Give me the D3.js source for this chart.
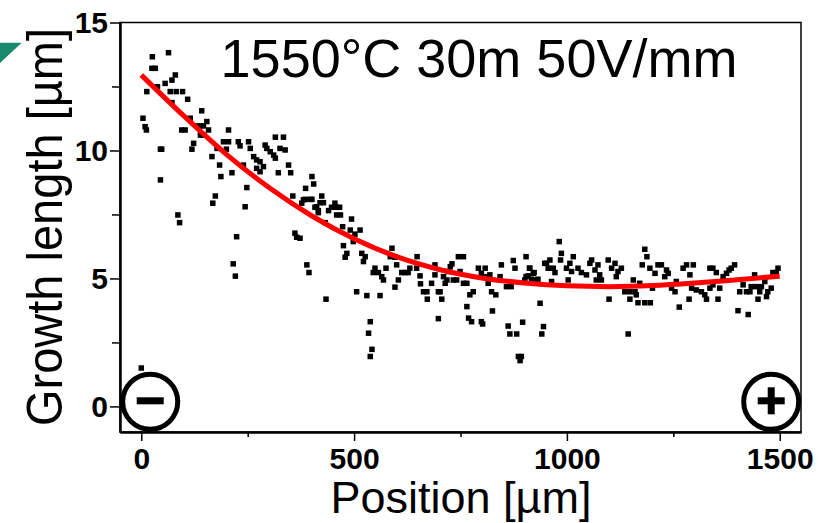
<!DOCTYPE html>
<html>
    <head>
        <meta charset="UTF-8"/>
        <style>
            body { margin: 0; background: #fff; }
            text { font-family: "Liberation Sans", Arial, sans-serif; }
        </style>
    </head>
    <body>
        <svg width="823" height="523"></svg>
        <script src="https://d3js.org/d3.v7.min.js" type="text/javascript"></script>
        <script>
            // measured points: position [um], growth length [um]
            let posX = [
                26, 64, 25, 33, 80, 72, 56, 38, 13, 68, 82, 97, 72, 109, 142, 4, 9, 12, 115, 154,
                131, 139, 146, 95, 103, 158, 205, 139, 146, 123, 45, 48, 119, 178, 193, 205, 228, 232, 252, 256,
                200, 166, 184, 264, 271, 279, 291, 295, 303, 311, 315, 315, 334, 326, 338, 240, 271, 287, 279, 187,
                213, 248, 322, 346, 351, 401, 405, 386, 45, 174, 168, 244, 356, 377, 385, 401, 412, 416, 86, 90,
                224, 361, 365, 0, 216, 221,
                381, 397, 424, 420, 428, 408, 416, 440, 447, 455, 459, 466, 459, 468, 432, 473, 494, 491, 502, 514,
                373, 389, 394, 434, 475, 483, 479, 498, 518, 526, 522, 506, 549, 557, 545, 565, 569, 575, 530, 561,
                538, 534, 542, 538, 589, 585, 596, 600, 604, 596, 612, 620, 627, 631, 647, 648, 655, 656, 663, 671,
                672, 682, 690, 690, 698, 702, 706, 698, 710, 718, 714, 722, 726, 730, 733, 741, 749, 757, 765, 745,
                757, 765, 769, 776, 772, 780, 792, 799, 808, 812, 799, 802, 815, 823, 833, 825, 819, 843, 846, 858,
                869, 874, 878, 862, 866, 882, 886, 890, 893, 896, 904, 901, 909, 913, 921, 929, 937, 945, 941, 948,
                956,
                982, 987, 985, 1015, 912, 923, 904, 917, 932, 952, 960, 968, 972, 964, 999, 1007, 1011, 1003, 1026, 1034,
                1046, 1054, 1058, 1066, 1073, 1077, 1081, 1069, 1097, 1105, 1113, 1120, 1116, 1128, 1099, 1136, 1148, 1156, 1160, 1148,
                1163, 1144, 1167, 1183, 1196, 1171, 1177, 1183, 1188, 1195, 1201, 1207, 1214, 1222, 1230, 1238, 1234, 1246, 1254, 1257,
                1264, 1273, 1281, 1289, 1297, 1293, 1287, 1304, 1316, 1324, 1328, 1336, 1343, 1336, 1343, 1351, 1355, 1359, 1367, 1375,
                1381, 1386, 1394, 1402, 1426, 1406, 1414, 1422, 1430, 1433, 1441, 1445, 1449, 1453, 1457, 1465, 1469, 1472, 1480, 1484,
                1492, 1496
            ];
            let growthY = [
                13.66, 13.82, 13.21, 13.21, 12.95, 12.75, 12.62, 12.49, 12.30, 12.30, 12.30, 12.30, 11.87, 12.00, 11.55, 11.26, 10.93, 10.80, 11.26, 11.13,
                10.96, 10.96, 10.96, 10.80, 10.80, 10.80, 10.80, 10.60, 10.60, 10.28, 10.05, 10.05, 10.05, 10.08, 10.34, 10.34, 10.34, 10.18, 10.34, 10.08,
                10.05, 9.76, 9.43, 9.76, 9.63, 9.56, 10.21, 10.08, 9.95, 9.82, 9.70, 10.52, 10.52, 10.08, 10.02, 9.43, 9.30, 9.37, 9.17, 8.98,
                9.13, 8.55, 9.13, 9.43, 9.13, 8.98, 8.69, 8.52, 8.85, 8.22, 7.94, 7.80, 8.22, 7.94, 8.09, 8.09, 7.80, 7.57, 7.48, 7.18,
                6.63, 6.77, 6.61, 1.50, 5.57, 5.09,
                8.07, 8.09, 8.22, 7.96, 7.96, 7.78, 7.65, 7.65, 7.78, 7.94, 7.78, 7.78, 7.48, 7.48, 7.18, 7.02, 7.32, 6.89, 6.73, 6.89,
                6.57, 5.53, 5.23, 4.19, 6.28, 5.98, 5.83, 6.44, 5.98, 5.85, 5.66, 4.48, 5.40, 5.23, 5.23, 5.07, 4.94, 5.40, 4.33, 4.33,
                3.31, 2.86, 2.23, 1.95, 6.18, 5.85, 5.83, 5.53, 4.94, 4.66, 5.23, 5.23, 5.23, 5.40, 5.40, 5.85, 5.10, 4.79, 4.48, 4.48,
                4.19, 4.81, 5.53, 5.14, 4.48, 4.48, 4.19, 3.43, 5.07, 4.94, 4.81, 5.27, 5.46, 5.57, 4.94, 4.94, 5.27, 4.81, 4.81, 5.85,
                5.85, 3.90, 3.45, 3.31, 4.36, 4.48, 5.40, 5.20, 5.40, 5.07, 3.31, 3.22, 4.81, 4.48, 4.36, 3.73, 5.14, 5.07, 5.53, 4.68,
                4.68, 5.70, 5.40, 3.14, 2.83, 2.83, 1.95, 1.79, 1.95, 3.29, 5.85, 4.94, 5.10, 5.40, 5.20, 4.94, 4.03, 3.12, 2.83, 5.59,
                5.40,
                6.44, 5.98, 5.72, 5.85, 5.40, 5.23, 5.07, 4.97, 4.97, 5.59, 5.72, 5.40, 5.23, 4.88, 5.40, 5.59, 5.27, 4.94, 5.40, 5.23,
                5.14, 5.59, 5.72, 5.33, 5.53, 5.14, 4.94, 4.94, 5.72, 5.40, 5.59, 5.27, 5.07, 5.40, 4.19, 4.48, 4.48, 4.94, 4.48, 4.19,
                4.36, 2.83, 4.05, 4.05, 4.05, 4.81, 5.53, 6.14, 5.85, 5.40, 4.62, 5.20, 5.53, 5.53, 5.07, 5.20, 5.33, 4.62, 4.48, 4.88,
                3.88, 5.40, 5.53, 5.14, 5.53, 4.62, 4.19, 4.55, 4.48, 4.36, 4.19, 4.62, 4.75, 5.40, 5.40, 5.23, 4.19, 4.62, 5.07, 5.20,
                5.33, 5.40, 5.53, 3.74, 3.59, 4.48, 4.75, 4.48, 4.48, 4.68, 5.14, 4.68, 4.19, 4.48, 4.68, 4.88, 4.29, 4.48, 4.62, 5.23,
                5.23, 5.40
            ];

            // fitted trend (red line)
            let fitX = [0, 100, 200, 300, 400, 500, 600, 700, 800, 900, 1000, 1100, 1200, 1300, 1400, 1500];
            let fitY = [12.95, 11.35, 9.85, 8.55, 7.45, 6.55, 5.85, 5.35, 5.02, 4.82, 4.71, 4.68, 4.72, 4.82, 4.95, 5.09];

            let xMajor = [0, 500, 1000, 1500], xMinor = [250, 750, 1250];
            let yMajor = [0, 5, 10, 15], yMinor = [2.5, 7.5, 12.5];

            let svg = d3.select("svg");
            let plotLeft = 120, plotRight = 801, plotTop = 22.5, plotBottom = 432;

            let x = d3.scaleLinear().domain([-50, 1550]).range([plotLeft, plotRight]);
            let y = d3.scaleLinear().domain([-1, 15]).range([plotBottom, plotTop]);

            // teal corner marker
            svg.append("path")
                .attr("d", "M0,42.7 L21.7,42.7 L0,63 Z")
                .attr("fill", "#17896d");

            // frame
            svg.append("rect")
                .attr("x", plotLeft).attr("y", plotTop)
                .attr("width", plotRight - plotLeft).attr("height", plotBottom - plotTop)
                .attr("fill", "none").attr("stroke", "#000").attr("stroke-width", 1.5);

            let points = posX.map(function(d, i) { return [d, growthY[i]]; });
            svg.append("g").selectAll("rect")
                .data(points)
                .enter()
                .append("rect")
                .attr("x", function(d) { return x(d[0]) - 2.75; })
                .attr("y", function(d) { return y(d[1]) - 2.75; })
                .attr("width", 5.5).attr("height", 5.5)
                .attr("fill", "#000");

            let line = d3.line()
                .x(function(d) { return x(d[0]); })
                .y(function(d) { return y(d[1]); })
                .curve(d3.curveMonotoneX);
            svg.append("path")
                .datum(fitX.map(function(d, i) { return [d, fitY[i]]; }))
                .attr("d", line)
                .attr("fill", "none")
                .attr("stroke", "#ff0000")
                .attr("stroke-width", 5);

            // axes
            let fmt = d3.format("d");
            svg.append("g").attr("transform", "translate(0," + plotBottom + ")")
                .call(d3.axisBottom(x).tickValues(xMajor).tickFormat(fmt).tickSize(9).tickSizeOuter(0).tickPadding(7));
            svg.append("g").attr("transform", "translate(0," + plotBottom + ")")
                .call(d3.axisBottom(x).tickValues(xMinor).tickSize(5).tickSizeOuter(0).tickFormat(""));
            svg.append("g").attr("transform", "translate(" + plotLeft + ",0)")
                .call(d3.axisLeft(y).tickValues(yMajor).tickFormat(fmt).tickSize(10).tickSizeOuter(0).tickPadding(2));
            svg.append("g").attr("transform", "translate(" + plotLeft + ",0)")
                .call(d3.axisLeft(y).tickValues(yMinor).tickSize(8).tickSizeOuter(0).tickFormat(""));

            svg.selectAll(".domain").attr("stroke", "#000").attr("stroke-width", 2);
            svg.selectAll(".tick line").attr("stroke", "#000").attr("stroke-width", 1.5);
            svg.selectAll(".tick text")
                .attr("fill", "#000")
                .style("font-family", "'Liberation Sans', Arial, sans-serif")
                .style("font-size", "30px")
                .style("font-weight", "bold");

            // electrode markers
            let minus = svg.append("g").attr("transform", "translate(" + x(21) + "," + y(0.18) + ")");
            minus.append("circle").attr("r", 27.5).attr("fill", "none").attr("stroke", "#000").attr("stroke-width", 5);
            minus.append("rect").attr("x", -13.5).attr("y", -4.5).attr("width", 27).attr("height", 7).attr("fill", "#000");

            let plus = svg.append("g").attr("transform", "translate(" + x(1480) + "," + y(0.18) + ")");
            plus.append("circle").attr("r", 27.5).attr("fill", "none").attr("stroke", "#000").attr("stroke-width", 5);
            plus.append("rect").attr("x", -13.5).attr("y", -4.5).attr("width", 27).attr("height", 7).attr("fill", "#000");
            plus.append("rect").attr("x", -3.5).attr("y", -14.5).attr("width", 7).attr("height", 27).attr("fill", "#000");

            // titles
            svg.append("text")
                .attr("x", 479).attr("y", 77)
                .attr("text-anchor", "middle")
                .style("font-size", "54px")
                .text("1550°C 30m 50V/mm");

            svg.append("text")
                .attr("x", 461).attr("y", 513)
                .attr("text-anchor", "middle")
                .style("font-size", "45px")
                .text("Position [µm]");

            svg.append("text")
                .attr("transform", "translate(62,227) rotate(-90)")
                .attr("text-anchor", "middle")
                .attr("textLength", 398)
                .attr("lengthAdjust", "spacingAndGlyphs")
                .style("font-size", "50px")
                .text("Growth length [µm]");
        </script>
    </body>
</html>
